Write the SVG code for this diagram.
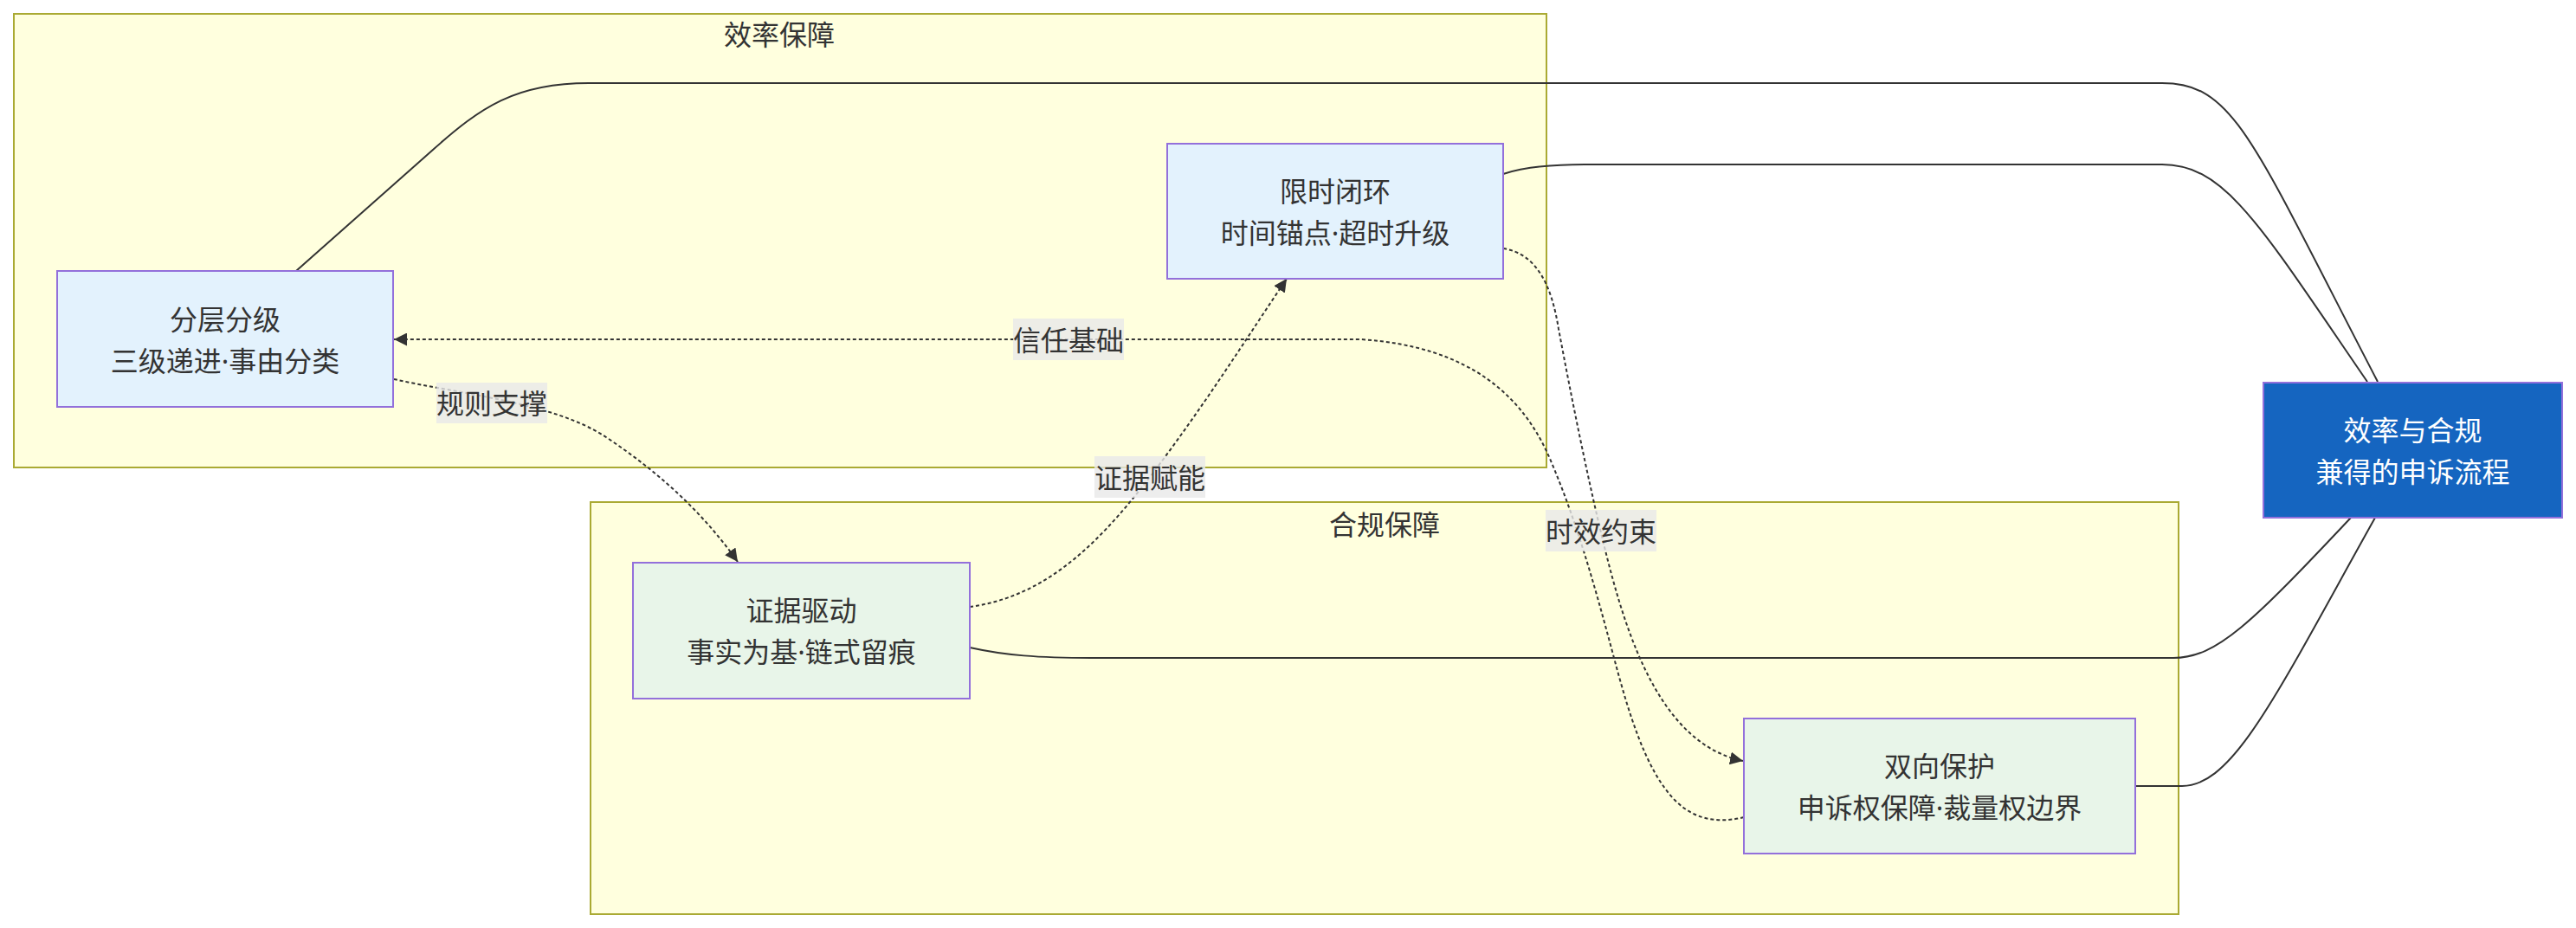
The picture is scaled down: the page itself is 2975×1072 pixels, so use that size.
<svg xmlns="http://www.w3.org/2000/svg" width="2975" height="1072" viewBox="0 0 2975 1072">
<defs>
<style>
.cluster{fill:#ffffde;stroke:#aaaa33;stroke-width:2}
.ctitle{font-family:"Noto Sans","Noto Sans CJK SC",sans-serif;font-size:32px;fill:#333;text-anchor:middle;dominant-baseline:central}
.node rect{stroke:#9370db;stroke-width:2}
.blue rect{fill:#e3f2fd}
.green rect{fill:#e8f5e9}
.main rect{fill:#1565c0}
.node text{font-family:"Noto Sans","Noto Sans CJK SC",sans-serif;font-size:32px;fill:#333;text-anchor:middle;dominant-baseline:central}
.main text{fill:#ffffff}
.solid{fill:none;stroke:#333;stroke-width:2}
.dotted{fill:none;stroke:#333;stroke-width:2;stroke-dasharray:4 3}
.lbl rect{fill:#e8e8e8;fill-opacity:0.8}
.lbl text{font-family:"Noto Sans","Noto Sans CJK SC",sans-serif;font-size:32px;fill:#333;text-anchor:middle;dominant-baseline:central}
</style>
<marker id="arrow" viewBox="0 0 10 10" refX="10" refY="5" markerUnits="userSpaceOnUse" markerWidth="15" markerHeight="15" orient="auto">
<path d="M0,0 L10,5 L0,10 z" fill="#333"/>
</marker>
</defs>
<rect width="2975" height="1072" fill="#ffffff"/>

<g id="cluster-efficiency">
<rect class="cluster" x="16" y="16" width="1770" height="524"/>
<text class="ctitle" x="900" y="39">效率保障</text>
</g>
<g id="cluster-compliance">
<rect class="cluster" x="682" y="580" width="1834" height="476"/>
<text class="ctitle" x="1599" y="605">合规保障</text>
</g>

<g id="connectors">
<path class="solid" d="M342,313 L500,173 C555,124 595,96 680,96 L2497,96 C2580,96 2600,160 2746,441"/>
<path class="solid" d="M1736,201 C1760,193 1790,190 1830,190 L2497,190 C2570,190 2610,260 2734,441"/>
<path class="solid" d="M1120,748 C1160,757 1200,760 1260,760 L2510,760 C2560,760 2600,720 2715,598"/>
<path class="solid" d="M2466,908 L2520,908 C2580,908 2630,800 2743,598"/>
<path class="dotted" marker-end="url(#arrow)" d="M455,438 C530,455 640,465 700,505 C760,545 810,590 852,649"/>
<path class="dotted" marker-end="url(#arrow)" d="M1120,701 C1200,690 1260,640 1328,551 C1390,470 1440,390 1486,322"/>
<path class="dotted" marker-end="url(#arrow)" d="M1736,287 C1775,293 1792,330 1800,380 C1815,460 1835,560 1855,640 C1880,740 1920,860 2013,879"/>
<path class="dotted" marker-end="url(#arrow)" d="M2014,944 C1990,950 1960,950 1935,925 C1900,890 1880,820 1864,760 C1840,670 1820,600 1790,530 C1760,460 1700,400 1571,392 L455,392"/>
</g>

<g id="edge-labels">
<g class="lbl"><rect x="504" y="442" width="128" height="47"/><text x="568" y="465.5">规则支撑</text></g>
<g class="lbl"><rect x="1264" y="527" width="128" height="48"/><text x="1328" y="551">证据赋能</text></g>
<g class="lbl"><rect x="1170" y="368" width="128" height="48"/><text x="1234" y="392">信任基础</text></g>
<g class="lbl"><rect x="1785" y="589" width="128" height="48"/><text x="1849" y="613">时效约束</text></g>
</g>

<g id="node-layered" class="node blue">
<rect x="66" y="313" width="388" height="157"/>
<text x="260" y="368">分层分级</text>
<text x="260" y="416">三级递进·事由分类</text>
</g>
<g id="node-timelimit" class="node blue">
<rect x="1348" y="166" width="388" height="156"/>
<text x="1542" y="220">限时闭环</text>
<text x="1542" y="268">时间锚点·超时升级</text>
</g>
<g id="node-evidence" class="node green">
<rect x="731" y="650" width="389" height="157"/>
<text x="925.5" y="704.5">证据驱动</text>
<text x="925.5" y="752.5">事实为基·链式留痕</text>
</g>
<g id="node-bidirectional" class="node green">
<rect x="2014" y="830" width="452" height="156"/>
<text x="2240" y="884">双向保护</text>
<text x="2240" y="932">申诉权保障·裁量权边界</text>
</g>
<g id="node-main" class="node main">
<rect x="2614" y="442" width="345" height="156"/>
<text x="2786.5" y="496">效率与合规</text>
<text x="2786.5" y="544">兼得的申诉流程</text>
</g>
</svg>
